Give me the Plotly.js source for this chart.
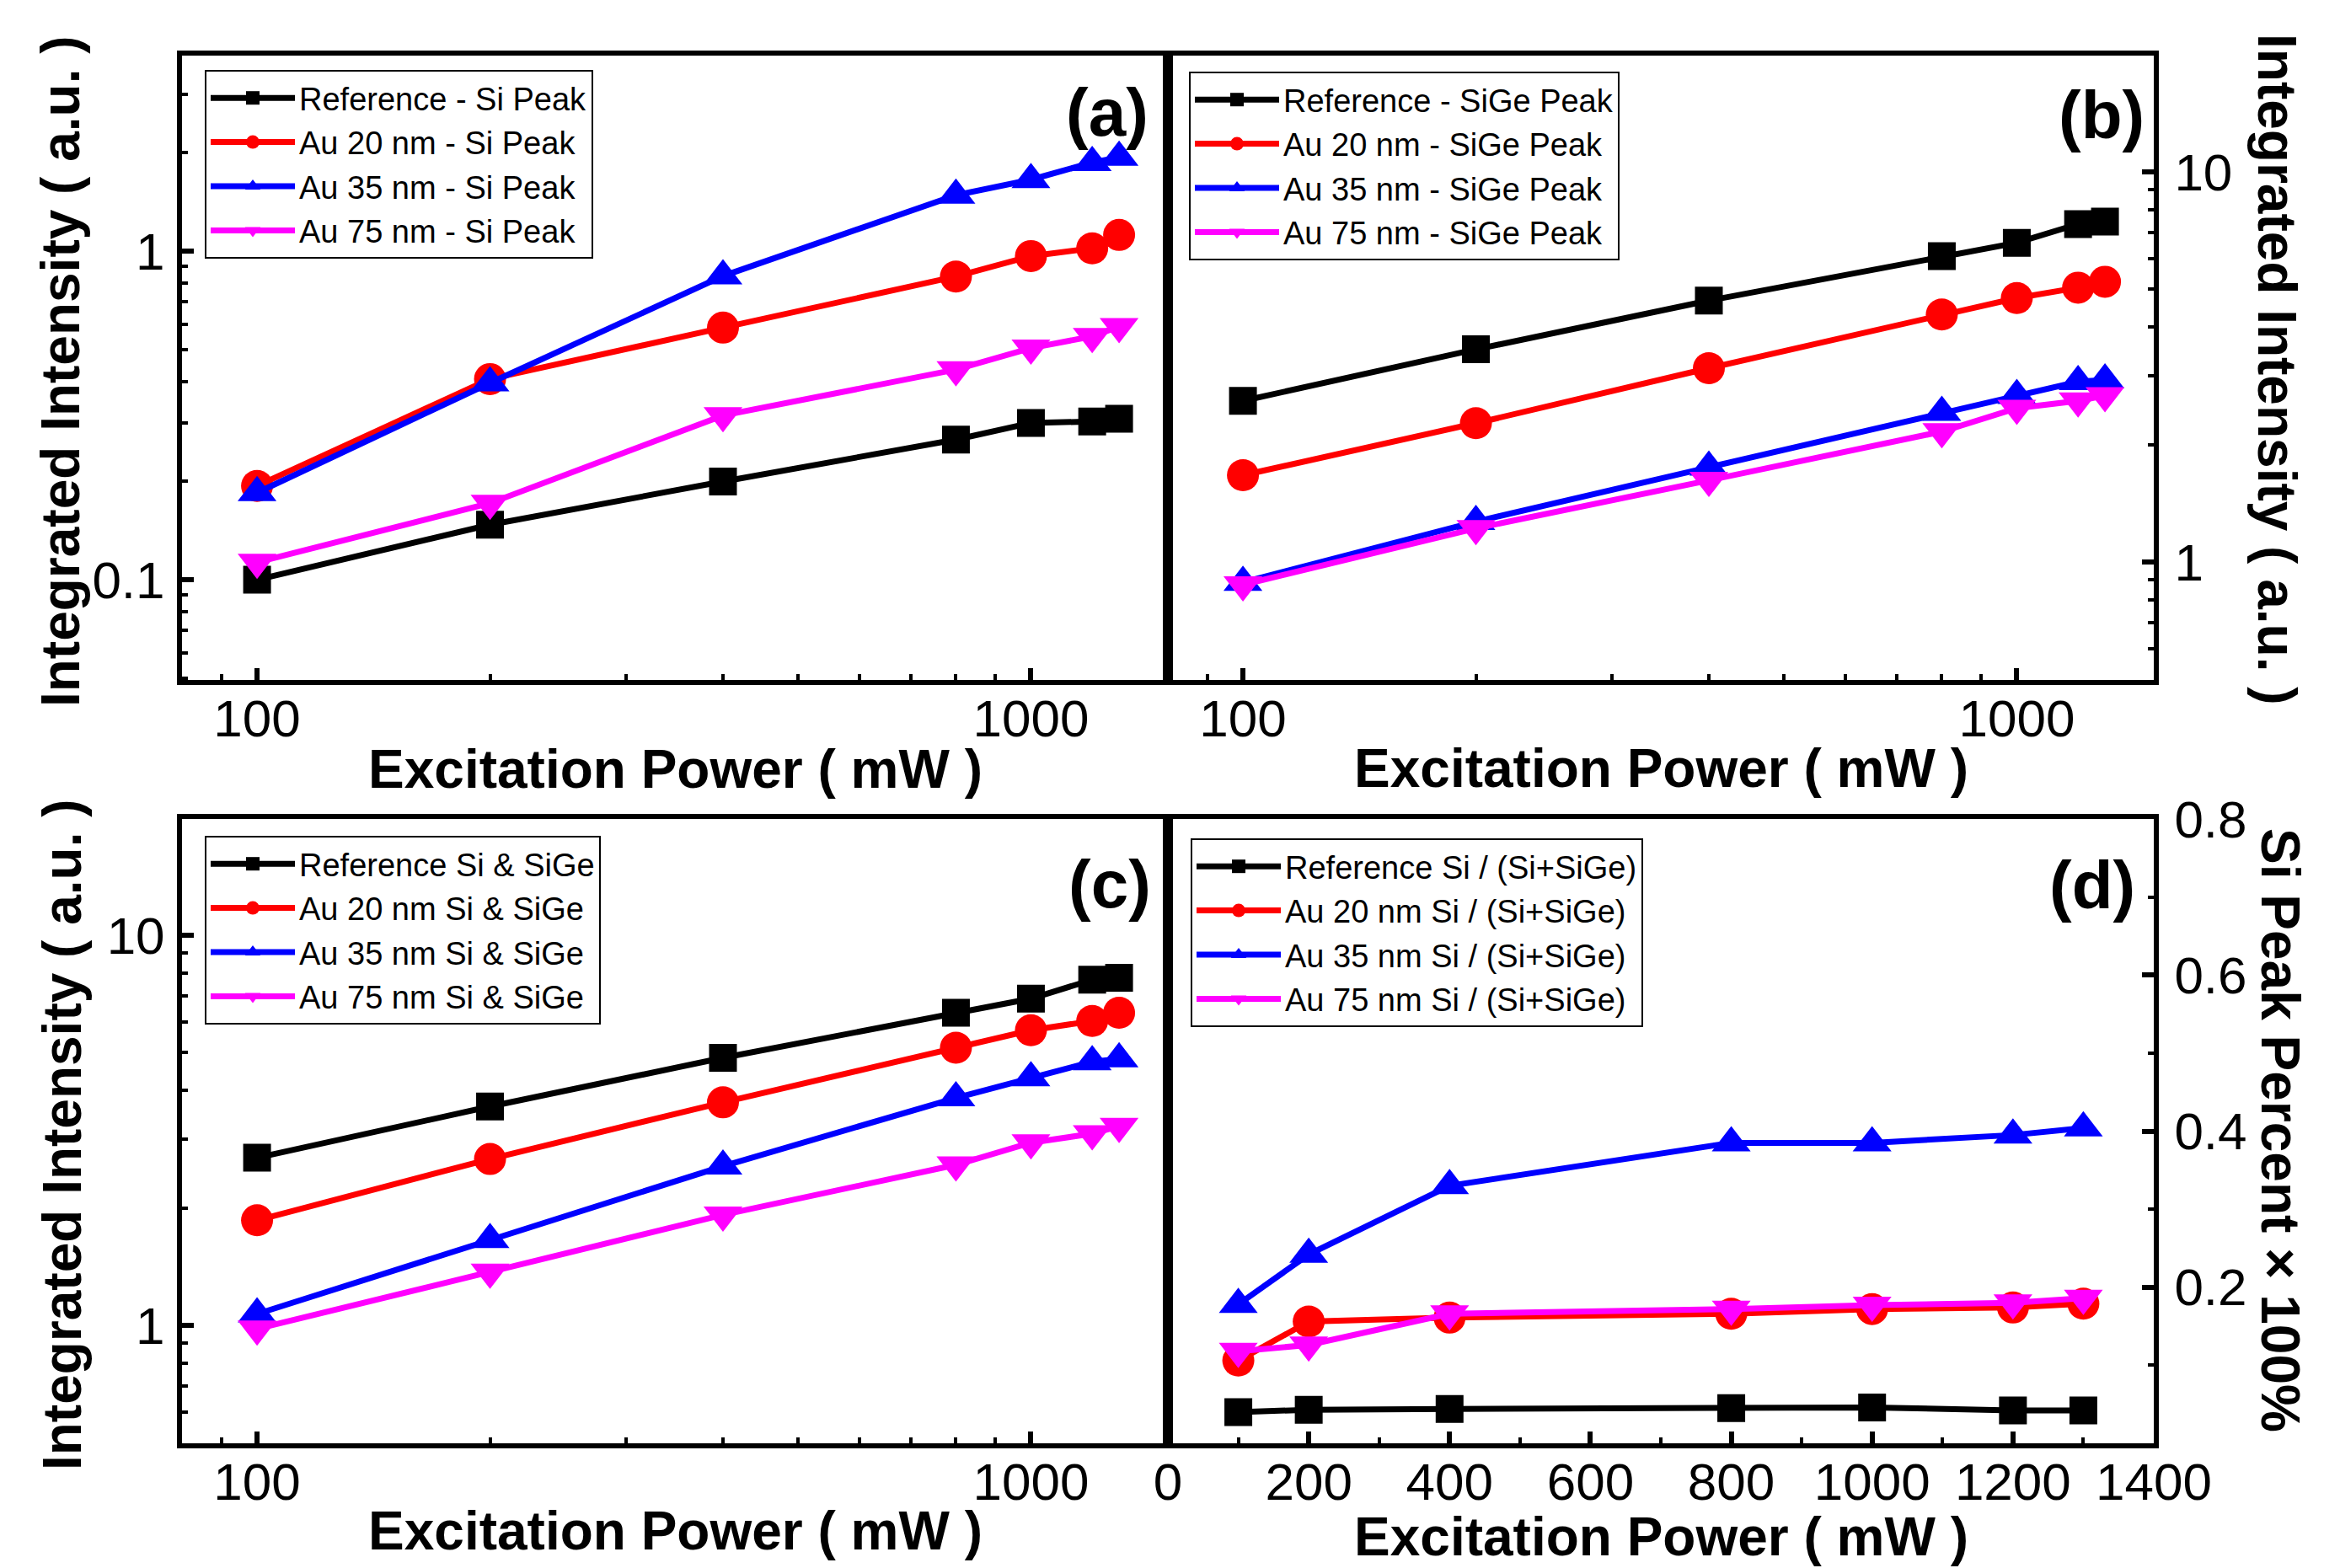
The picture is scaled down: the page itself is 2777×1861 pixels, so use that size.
<!DOCTYPE html>
<html>
<head>
<meta charset="utf-8">
<script src="https://cdn.plot.ly/plotly-3.0.1.min.js"></script>
<style>html,body{margin:0;padding:0;background:#fff;}#chart{width:2777px;height:1861px;}</style>
</head>
<body>
<div id="chart"></div>
<script>
// ---------- data ----------
const power = [100, 200, 400, 800, 1000, 1200, 1300];

// (a) Si peak
const refSi   = [0.100, 0.147, 0.199, 0.267, 0.300, 0.303, 0.309];
const au20Si  = [0.193, 0.408, 0.585, 0.837, 0.966, 1.02, 1.12];
const au35Si  = [0.184, 0.397, 0.84, 1.48, 1.65, 1.86, 1.93];
const au75Si  = [0.113, 0.171, 0.316, 0.436, 0.507, 0.55, 0.59];

// (b) SiGe peak
const refSiGe  = [2.59, 3.51, 4.68, 6.08, 6.58, 7.35, 7.46];
const au20SiGe = [1.67, 2.27, 3.14, 4.31, 4.75, 5.05, 5.23];
const au35SiGe = [0.887, 1.27, 1.75, 2.42, 2.67, 2.90, 2.93];
const au75SiGe = [0.875, 1.22, 1.62, 2.16, 2.48, 2.59, 2.67];

// (c) Si & SiGe
const refTot  = [2.69, 3.64, 4.85, 6.33, 6.88, 7.69, 7.78];
const au20Tot = [1.86, 2.67, 3.73, 5.15, 5.71, 6.03, 6.33];
const au35Tot = [1.07, 1.66, 2.56, 3.83, 4.31, 4.74, 4.82];
const au75Tot = [0.98, 1.37, 1.92, 2.58, 2.94, 3.10, 3.24];

// (d) Si / (Si+SiGe)
const refRatio  = [0.040, 0.043, 0.044, 0.045, 0.046, 0.042, 0.042];
const au20Ratio = [0.106, 0.156, 0.161, 0.166, 0.172, 0.174, 0.179];
const au35Ratio = [0.178, 0.242, 0.330, 0.385, 0.385, 0.395, 0.404];
const au75Ratio = [0.118, 0.126, 0.166, 0.172, 0.177, 0.180, 0.186];

const namesA = ["Reference - Si Peak", "Au 20 nm - Si Peak", "Au 35 nm - Si Peak", "Au 75 nm - Si Peak"];
const namesB = ["Reference - SiGe Peak", "Au 20 nm - SiGe Peak", "Au 35 nm - SiGe Peak", "Au 75 nm - SiGe Peak"];
const namesC = ["Reference Si & SiGe", "Au 20 nm Si & SiGe", "Au 35 nm Si & SiGe", "Au 75 nm Si & SiGe"];
const namesD = ["Reference Si / (Si+SiGe)", "Au 20 nm Si / (Si+SiGe)", "Au 35 nm Si / (Si+SiGe)", "Au 75 nm Si / (Si+SiGe)"];

const logTickVals = [0.1, 1, 10];
const logTickText = ["0.1", "1", "10"];
const xLogTickVals = [100, 1000];
const xLogTickText = ["100", "1000"];
const linXTickVals = [0, 200, 400, 600, 800, 1000, 1200, 1400];
const linYTickVals = [0.2, 0.4, 0.6, 0.8];

// ---------- styles ----------
const FONT = "Liberation Sans, Arial, Helvetica, sans-serif";
const colors = ["#000000", "#ff0000", "#0000ff", "#ff00ff"];
const symbols = ["square", "circle", "triangle-up", "triangle-down"];
const msizes = [33, 38, 40, 40];

function makeTraces(series, names, xa, ya, leg) {
  return series.map((vals, i) => ({
    x: power, y: vals, name: names[i], type: "scatter", mode: "lines+markers",
    xaxis: xa, yaxis: ya, legend: leg,
    line: {color: colors[i], width: 7},
    marker: {color: colors[i], symbol: symbols[i], size: msizes[i], line: {width: 0}}
  }));
}

const data = [].concat(
  makeTraces([refSi, au20Si, au35Si, au75Si], namesA, "x", "y", "legend"),
  makeTraces([refSiGe, au20SiGe, au35SiGe, au75SiGe], namesB, "x2", "y2", "legend2"),
  makeTraces([refTot, au20Tot, au35Tot, au75Tot], namesC, "x3", "y3", "legend3"),
  makeTraces([refRatio, au20Ratio, au35Ratio, au75Ratio], namesD, "x4", "y4", "legend4")
);

const W = 2777, H = 1861;
const px = v => v / W;
const py = v => 1 - v / H;

const common = {
  showline: true, linewidth: 6, linecolor: "#000", mirror: true,
  ticks: "inside", ticklen: 14, tickwidth: 6, tickcolor: "#000",
  showgrid: false, zeroline: false,
  tickfont: {family: FONT, size: 62, color: "#000"}
};
function ax(extra) { return Object.assign({}, common, extra); }
const logMinor = {ticks: "inside", ticklen: 7, tickwidth: 4, tickcolor: "#000", dtick: "D1", showgrid: false};

const colL = [px(216), px(1386)];
const colR = [px(1386), px(2556)];
const rowT = [py(807), py(66)];
const rowB = [py(1713), py(972)];
const xLogRange = [1.903, 3.177];
const xStand = -13, yLStand = 2, yRStand = 6;

function legendAt(x, y) {
  return {x: px(x), y: py(y), xanchor: "left", yanchor: "top", bgcolor: "#fff",
    bordercolor: "#000", borderwidth: 2, font: {family: FONT, size: 38, color: "#000"},
    itemwidth: 100, tracegroupgap: 0};
}

const titleFont = {family: FONT, size: 64, color: "#000", weight: "bold"};
const labelFont = {family: FONT, size: 80, color: "#000", weight: "bold"};
function ann(text, x, y, angle, font) {
  return {text: text, x: px(x), y: py(y), xref: "paper", yref: "paper", showarrow: false,
    xanchor: "center", yanchor: "middle", textangle: angle || 0, font: font};
}

const layout = {
  width: W, height: H, margin: {l: 0, r: 0, t: 0, b: 0},
  paper_bgcolor: "#fff", plot_bgcolor: "#fff",
  font: {family: FONT, color: "#000"},
  showlegend: true,
  xaxis: ax({domain: colL, anchor: "y", type: "log", range: xLogRange, tickmode: "array", tickvals: xLogTickVals, ticktext: xLogTickText, minor: logMinor, ticklabelstandoff: xStand}),
  yaxis: ax({domain: rowT, anchor: "x", type: "log", range: [-1.305, 0.595], tickmode: "array", tickvals: logTickVals, ticktext: logTickText, minor: logMinor, ticklabelstandoff: yLStand}),
  xaxis2: ax({domain: colR, anchor: "y2", type: "log", range: xLogRange, tickmode: "array", tickvals: xLogTickVals, ticktext: xLogTickText, minor: logMinor, ticklabelstandoff: xStand}),
  yaxis2: ax({domain: rowT, anchor: "x2", side: "right", type: "log", range: [-0.302, 1.298], tickmode: "array", tickvals: logTickVals, ticktext: logTickText, minor: logMinor, ticklabelstandoff: yRStand}),
  xaxis3: ax({domain: colL, anchor: "y3", type: "log", range: xLogRange, tickmode: "array", tickvals: xLogTickVals, ticktext: xLogTickText, minor: logMinor, ticklabelstandoff: xStand}),
  yaxis3: ax({domain: rowB, anchor: "x3", type: "log", range: [-0.302, 1.298], tickmode: "array", tickvals: logTickVals, ticktext: logTickText, minor: logMinor, ticklabelstandoff: yLStand}),
  xaxis4: ax({domain: colR, anchor: "y4", type: "linear", range: [0, 1400], tickmode: "array", tickvals: linXTickVals, ticklabelstandoff: xStand,
    minor: {ticks: "inside", ticklen: 7, tickwidth: 4, tickcolor: "#000", dtick: 100, tick0: 0, showgrid: false}}),
  yaxis4: ax({domain: rowB, anchor: "x4", side: "right", type: "linear", range: [0, 0.8], tickmode: "array", tickvals: linYTickVals, ticklabelstandoff: yRStand,
    minor: {ticks: "inside", ticklen: 7, tickwidth: 4, tickcolor: "#000", dtick: 0.1, tick0: 0, showgrid: false}}),
  legend: legendAt(243, 83),
  legend2: legendAt(1411, 85),
  legend3: legendAt(243, 992),
  legend4: legendAt(1413, 995),
  annotations: [
    ann("(a)", 1314, 134, 0, labelFont),
    ann("(b)", 2494, 136, 0, labelFont),
    ann("(c)", 1317, 1049, 0, labelFont),
    ann("(d)", 2483, 1050, 0, labelFont),
    ann("Excitation Power ( mW )", 801, 913, 0, titleFont),
    ann("Excitation Power ( mW )", 1971, 912, 0, titleFont),
    ann("Excitation Power ( mW )", 801, 1817, 0, titleFont),
    ann("Excitation Power ( mW )", 1971, 1824, 0, titleFont),
    ann("Integrated Intensity ( a.u. )", 72, 441, -90, titleFont),
    ann("Integrated Intensity ( a.u. )", 74, 1347, -90, titleFont),
    ann("Integrated Intensity ( a.u. )", 2702, 438, 90, titleFont),
    ann("Si Peak Percent × 100%", 2706, 1341, 90, titleFont)
  ]
};

Plotly.newPlot("chart", data, layout, {displayModeBar: false, staticPlot: true});
</script>
</body>
</html>
